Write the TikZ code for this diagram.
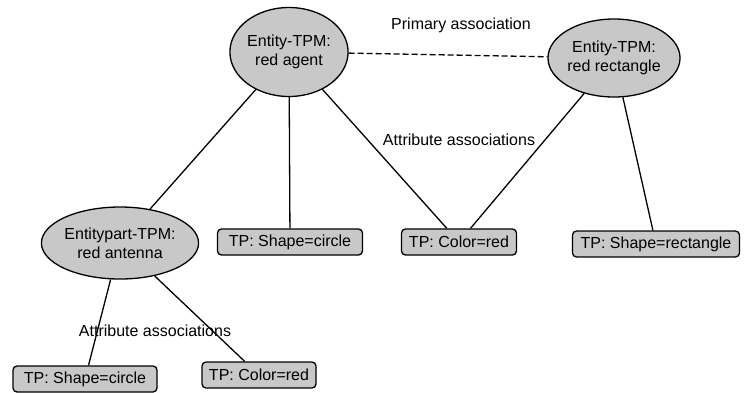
\documentclass[tikz,border=0pt]{standalone}
\usepackage{fontspec}
\setmainfont{Liberation Sans}
\usetikzlibrary{shapes.geometric}
\definecolor{boxgray}{RGB}{200,200,200}
\begin{document}
\begin{tikzpicture}[x=1pt,y=-1pt,
  every node/.style={font=\fontsize{16pt}{19pt}\selectfont},
  ent/.style={ellipse,draw,line width=1.3pt,fill=boxgray,inner sep=0pt,align=center},
  tp/.style={draw,line width=1.3pt,fill=boxgray,rounded corners=4pt,inner sep=0pt,minimum height=26pt},
  conn/.style={line width=1.3pt},
  lbl/.style={inner sep=0pt}]
\useasboundingbox (0,0) rectangle (744,392);
\node[ent,minimum width=118pt,minimum height=89pt] (agent) at (289,52) {Entity-TPM:\\red agent};
\node[ent,minimum width=118pt,minimum height=78pt] (rect) at (614,58) {Entity-TPM:\\red rectangle};
\node[ent,minimum width=134pt,minimum height=72pt] (ant) at (120,243) {Entitypart-TPM:\\red antenna};
\node[tp,minimum width=145pt] (sc1) at (290,242) {TP: Shape=circle};
\node[tp,minimum width=115pt] (cr1) at (459,242) {TP: Color=red};
\node[tp,minimum width=167pt] (sr) at (656,244) {TP: Shape=rectangle};
\node[tp,minimum width=144pt] (sc2) at (85,379) {TP: Shape=circle};
\node[tp,minimum width=114pt] (cr2) at (259,375) {TP: Color=red};
\draw[conn,dash pattern=on 6pt off 3pt] (agent) -- (rect);
\draw[conn] (agent) -- (ant);
\draw[conn] (agent) -- (sc1);
\draw[conn] (agent) -- (cr1);
\draw[conn] (rect) -- (cr1);
\draw[conn] (rect) -- (sr);
\draw[conn] (ant) -- (sc2);
\draw[conn] (ant) -- (cr2);
\node[lbl] (pa) at (461,25) {Primary association};
\node[lbl] (aa1) at (459,140) {Attribute associations};
\node[lbl] (aa2) at (155,331) {Attribute associations};
\end{tikzpicture}
\end{document}
